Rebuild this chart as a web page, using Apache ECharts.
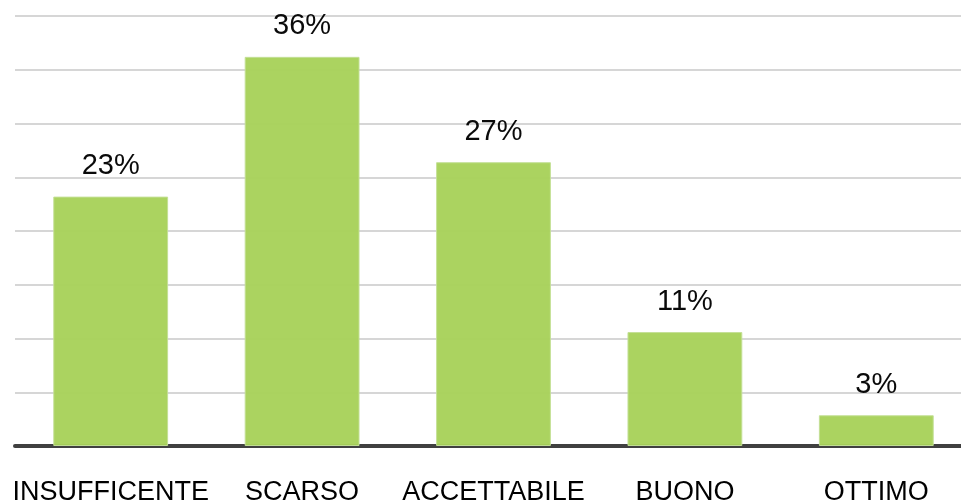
<!DOCTYPE html>
<html><head><meta charset="utf-8">
<script src="https://cdn.jsdelivr.net/npm/echarts@6/dist/echarts.min.js"></script>
<style>html,body{margin:0;padding:0;background:#fff}#c{width:961px;height:504px}</style>
</head><body><div id="c"></div>
<script>
const categories = ["INSUFFICENTE", "SCARSO", "ACCETTABILE", "BUONO", "OTTIMO"];
const values = [23.2, 36.2, 26.4, 10.6, 2.86];
const valueLabels = ["23%", "36%", "27%", "11%", "3%"];

const chart = echarts.init(document.getElementById('c'));
chart.setOption({
  animation: false,
  grid: { left: 15, width: 957, top: 16, height: 430, containLabel: false, outerBoundsMode: 'none' },
  xAxis: {
    type: 'category',
    data: categories,
    axisLine: { lineStyle: { color: '#404040', width: 4 } },
    axisTick: { show: false },
    axisLabel: { color: '#000', fontSize: 27, fontFamily: 'Liberation Sans', margin: 33, interval: 0 }
  },
  yAxis: {
    type: 'value', min: 0, max: 40, interval: 5,
    axisLabel: { show: false }, axisLine: { show: false }, axisTick: { show: false },
    splitLine: { lineStyle: { color: '#D6D6D6', width: 2 } }
  },
  series: [{
    type: 'bar',
    data: values,
    barWidth: '60%',
    itemStyle: { color: '#A8D15A', borderColor: '#C4E096', borderWidth: 1, opacity: 0.96 },
    label: {
      show: true, position: 'top', distance: 16,
      color: '#000', fontSize: 29, fontFamily: 'Liberation Sans',
      formatter: p => valueLabels[p.dataIndex]
    }
  }]
});
</script></body></html>
